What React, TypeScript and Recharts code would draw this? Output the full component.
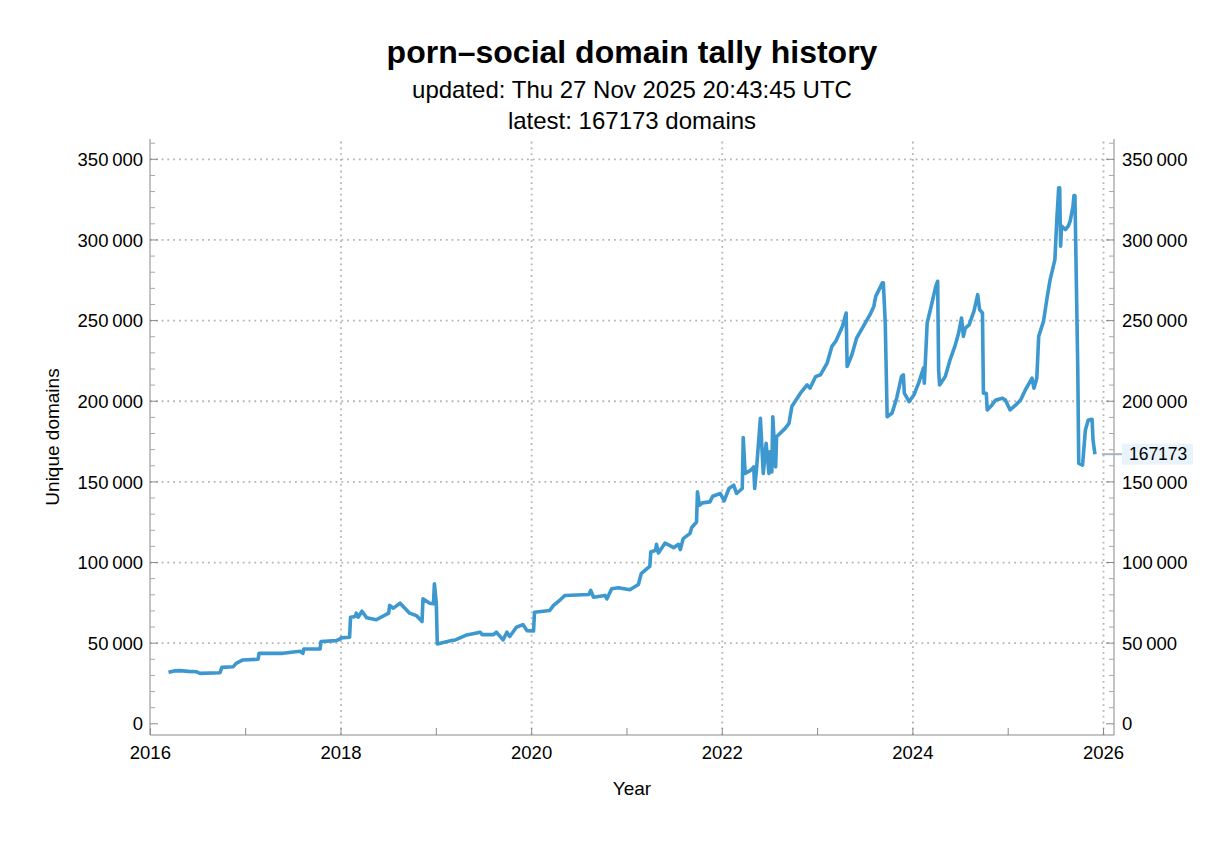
import React from 'react';
import { LineChart, Line, XAxis, YAxis, ReferenceLine, LabelList, Customized } from 'recharts';

// Daily tally of unique domains, sampled as (decimal year, count)
const years = [
  2016.19, 2016.25, 2016.31, 2016.40, 2016.48, 2016.52, 2016.73, 2016.75, 2016.87, 2016.90,
  2016.97, 2017.13, 2017.14, 2017.39, 2017.57, 2017.60, 2017.61, 2017.78, 2017.79, 2017.95,
  2017.99, 2018.00, 2018.09, 2018.10, 2018.15, 2018.16, 2018.18, 2018.22, 2018.27, 2018.37,
  2018.50, 2018.51, 2018.55, 2018.62, 2018.72, 2018.79, 2018.85, 2018.86, 2018.93, 2018.97,
  2018.98, 2019.00, 2019.01, 2019.16, 2019.20, 2019.32, 2019.46, 2019.48, 2019.60, 2019.63,
  2019.70, 2019.74, 2019.77, 2019.84, 2019.91, 2019.95, 2020.02, 2020.03, 2020.19, 2020.23,
  2020.30, 2020.35, 2020.60, 2020.62, 2020.65, 2020.77, 2020.79, 2020.84, 2020.91, 2021.03,
  2021.12, 2021.15, 2021.21, 2021.24, 2021.25, 2021.30, 2021.31, 2021.33, 2021.40, 2021.49,
  2021.54, 2021.56, 2021.59, 2021.66, 2021.68, 2021.73, 2021.74, 2021.76, 2021.79, 2021.87,
  2021.90, 2021.98, 2022.02, 2022.07, 2022.12, 2022.15, 2022.21, 2022.22, 2022.24, 2022.30,
  2022.33, 2022.34, 2022.36, 2022.40, 2022.43, 2022.46, 2022.49, 2022.50, 2022.52, 2022.53,
  2022.56, 2022.57, 2022.66, 2022.70, 2022.73, 2022.82, 2022.89, 2022.92, 2022.98, 2023.03,
  2023.10, 2023.15, 2023.19, 2023.26, 2023.30, 2023.31, 2023.36, 2023.41, 2023.48, 2023.55,
  2023.59, 2023.61, 2023.68, 2023.69, 2023.71, 2023.73, 2023.78, 2023.83, 2023.88, 2023.90,
  2023.91, 2023.96, 2024.01, 2024.06, 2024.11, 2024.12, 2024.15, 2024.20, 2024.24, 2024.26,
  2024.27, 2024.28, 2024.34, 2024.39, 2024.44, 2024.48, 2024.51, 2024.53, 2024.55, 2024.59,
  2024.64, 2024.68, 2024.70, 2024.73, 2024.74, 2024.77, 2024.78, 2024.83, 2024.87, 2024.94,
  2024.97, 2025.02, 2025.08, 2025.13, 2025.18, 2025.25, 2025.27, 2025.30, 2025.32, 2025.37,
  2025.41, 2025.44, 2025.49, 2025.51, 2025.53, 2025.54, 2025.55, 2025.56, 2025.60, 2025.63,
  2025.65, 2025.68, 2025.69, 2025.70, 2025.71, 2025.73, 2025.74, 2025.78, 2025.81, 2025.84,
  2025.88, 2025.89, 2025.91,
];

const domains = [
  31900, 32800, 33000, 32500, 32300, 31300, 31700, 35000, 35400, 37500,
  39600, 40000, 43700, 43700, 45000, 43700, 46400, 46400, 51000, 51600,
  52600, 53300, 53700, 66100, 66500, 68600, 66100, 69800, 65700, 64500,
  68600, 73400, 71700, 74800, 68600, 67100, 63400, 77500, 74800, 74400,
  86800, 74800, 49500, 51600, 52000, 55100, 56800, 55300, 55300, 56800,
  52000, 56800, 54100, 59900, 61500, 57800, 57500, 69200, 70300, 73400,
  76900, 79600, 80200, 82700, 78500, 79600, 77500, 83700, 84400, 83100,
  86400, 93100, 96200, 97600, 106500, 107600, 111300, 105900, 112100, 109200,
  111300, 108000, 114800, 117900, 121700, 125100, 143800, 135500, 137000, 137600,
  141100, 142800, 138200, 145900, 148000, 142800, 145900, 177500, 155200, 157300,
  159300, 145900, 158300, 189400, 155200, 173900, 155200, 168700, 156200, 190400,
  159300, 178000, 183200, 186300, 196700, 205000, 210100, 208100, 215300, 216400,
  223600, 234000, 237100, 246400, 254700, 221500, 228800, 239200, 246400, 253700,
  258800, 265000, 273400, 273400, 248500, 190400, 192500, 201900, 215300, 216400,
  205000, 199700, 203900, 211200, 220500, 211200, 248500, 260900, 271200, 274400,
  219500, 210100, 215300, 225700, 234000, 242300, 251600, 240200, 245400, 247400,
  255700, 266100, 256800, 254700, 205000, 205000, 194600, 197700, 200800, 201900,
  200800, 194600, 197700, 200800, 207000, 214300, 208100, 214300, 240200, 249500,
  265000, 275400, 287800, 312700, 332400, 332400, 296100, 308600, 306500, 308600,
  311700, 321000, 327600, 327600, 292000, 219500, 161500, 160400, 182200, 188400,
  188800, 175900, 167173,
];

const yearTicks = [2016, 2017, 2018, 2019, 2020, 2021, 2022, 2023, 2024, 2025, 2026];
const yearLabels = [2016, 2018, 2020, 2022, 2024, 2026];
const gridYears = [2018, 2020, 2022, 2024, 2026];

const valueTicks = [
  0, 10000, 20000, 30000, 40000, 50000, 60000, 70000, 80000, 90000,
  100000, 110000, 120000, 130000, 140000, 150000, 160000, 170000, 180000, 190000,
  200000, 210000, 220000, 230000, 240000, 250000, 260000, 270000, 280000, 290000,
  300000, 310000, 320000, 330000, 340000, 350000, 360000,
];
const valueLabels = [0, 50000, 100000, 150000, 200000, 250000, 300000, 350000];
const gridValues = [50000, 100000, 150000, 200000, 250000, 300000, 350000];

const titleText = 'porn–social domain tally history';
const updatedText = 'updated: Thu 27 Nov 2025 20:43:45 UTC';
const latestText = 'latest: 167173 domains';

const data = years.map((year, i) => ({ year, domains: domains[i] }));

const FONT = '"Liberation Sans", Arial, Helvetica, sans-serif';
const FRAME = '#8a8a8a';
const MINOR = '#a8a8a8';
const LINE = '#3d98cf';
const GRID = '#b5b5b5';

const X_DOMAIN: [number, number] = [2015.996, 2026.11];
const Y_DOMAIN: [number, number] = [-6940, 362600];

const fmt = (v: number) => {
  const s = String(v);
  if (s.length <= 4) return s;
  return s.slice(0, s.length - 3) + '\u2009' + s.slice(s.length - 3);
};

const isMajorValue = (v: number) => valueLabels.includes(v);
const isLabelYear = (v: number) => yearLabels.includes(v);

const LeftTick = (p: any) => {
  const { x, y, payload } = p;
  const major = isMajorValue(payload.value);
  return (
    <g>
      <line x1={x} x2={x + (major ? 8 : 5)} y1={y} y2={y} stroke={major ? FRAME : MINOR} strokeWidth={1} />
      {major && (
        <text x={x - 7} y={y} dy="0.36em" textAnchor="end" fontFamily={FONT} fontSize={18.5} fill="#000">
          {fmt(payload.value)}
        </text>
      )}
    </g>
  );
};

const RightTick = (p: any) => {
  const { x, y, payload } = p;
  const major = isMajorValue(payload.value);
  return (
    <g>
      <line x1={x} x2={x - (major ? 8 : 5)} y1={y} y2={y} stroke={major ? FRAME : MINOR} strokeWidth={1} />
      {major && (
        <text x={x + 8} y={y} dy="0.36em" textAnchor="start" fontFamily={FONT} fontSize={18.5} fill="#000">
          {fmt(payload.value)}
        </text>
      )}
    </g>
  );
};

const BottomTick = (p: any) => {
  const { x, y, payload } = p;
  return (
    <g>
      <line x1={x} x2={x} y1={y} y2={y - 7} stroke={FRAME} strokeWidth={1} />
      {isLabelYear(payload.value) && (
        <text x={x} y={y + 24} textAnchor="middle" fontFamily={FONT} fontSize={18.5} fill="#000">
          {payload.value}
        </text>
      )}
    </g>
  );
};

const TopTick = (p: any) => {
  const { x, y } = p;
  return <line x1={x} x2={x} y1={y} y2={y + 7} stroke={FRAME} strokeWidth={1} />;
};

const lastIndex = data.length - 1;

const LatestCallout = (p: any) => {
  const { x, y, index } = p;
  if (index !== lastIndex) return null;
  const px = Number(x);
  const py = Number(y);
  return (
    <g>
      <line x1={px + 7} x2={px + 28} y1={py} y2={py} stroke="#a9b4bf" strokeWidth={2} />
      <rect x={px + 27} y={py - 10.5} width={71} height={21} fill="#e8f3fc" />
      <text x={px + 34} y={py} dy="0.36em" fontFamily={FONT} fontSize={17.5} fill="#000">
        {domains[lastIndex]}
      </text>
    </g>
  );
};

const Titles = () => (
  <g fontFamily={FONT} fill="#000">
    <text x={632} y={63} textAnchor="middle" fontSize={32} fontWeight="bold">{titleText}</text>
    <text x={632} y={98} textAnchor="middle" fontSize={24}>{updatedText}</text>
    <text x={632} y={129} textAnchor="middle" fontSize={24}>{latestText}</text>
    <text x={632} y={795} textAnchor="middle" fontSize={19}>Year</text>
    <text
      x={52}
      y={437}
      textAnchor="middle"
      dy="0.36em"
      fontSize={19}
      transform="rotate(-90 52 437)"
    >
      Unique domains
    </text>
  </g>
);

export default function App() {
  return (
    <div style={{ position: 'absolute', left: 0, top: 0, width: 1232, height: 841, background: '#fff' }}>
      <LineChart
        width={1232}
        height={841}
        data={data}
        margin={{ top: 139, right: 0, bottom: 0, left: 0 }}
      >
        <XAxis
          xAxisId="b"
          dataKey="year"
          type="number"
          domain={X_DOMAIN}
          allowDataOverflow
          ticks={yearTicks}
          interval={0}
          height={106}
          orientation="bottom"
          tickSize={0}
          tickMargin={0}
          tickLine={false}
          axisLine={{ stroke: FRAME, strokeWidth: 1 }}
          tick={<BottomTick />}
        />
        <XAxis
          xAxisId="t"
          dataKey="year"
          type="number"
          domain={X_DOMAIN}
          allowDataOverflow
          ticks={yearTicks}
          interval={0}
          height={0}
          orientation="top"
          tickSize={0}
          tickMargin={0}
          tickLine={false}
          axisLine={{ stroke: FRAME, strokeWidth: 1 }}
          tick={<TopTick />}
        />
        <YAxis
          yAxisId="l"
          type="number"
          domain={Y_DOMAIN}
          allowDataOverflow
          ticks={valueTicks}
          interval={0}
          width={150}
          orientation="left"
          tickSize={0}
          tickMargin={0}
          tickLine={false}
          axisLine={{ stroke: FRAME, strokeWidth: 1 }}
          tick={<LeftTick />}
        />
        <YAxis
          yAxisId="r"
          type="number"
          domain={Y_DOMAIN}
          allowDataOverflow
          ticks={valueTicks}
          interval={0}
          width={118}
          orientation="right"
          tickSize={0}
          tickMargin={0}
          tickLine={false}
          axisLine={{ stroke: FRAME, strokeWidth: 1 }}
          tick={<RightTick />}
        />
        {gridValues.map((v) => (
          <ReferenceLine
            key={'h' + v}
            xAxisId="b"
            yAxisId="l"
            y={v}
            stroke={GRID}
            strokeWidth={1.8}
            strokeDasharray="1.8 4"
          />
        ))}
        {gridYears.map((v) => (
          <ReferenceLine
            key={'v' + v}
            xAxisId="b"
            yAxisId="l"
            x={v}
            stroke={GRID}
            strokeWidth={1.8}
            strokeDasharray="1.8 4"
          />
        ))}
        <Line
          xAxisId="b"
          yAxisId="l"
          dataKey="domains"
          type="linear"
          stroke={LINE}
          strokeWidth={3.6}
          strokeLinejoin="round"
          dot={false}
          activeDot={false}
          isAnimationActive={false}
        >
          <LabelList dataKey="domains" content={<LatestCallout />} />
        </Line>
        <Customized component={Titles} />
      </LineChart>
    </div>
  );
}
